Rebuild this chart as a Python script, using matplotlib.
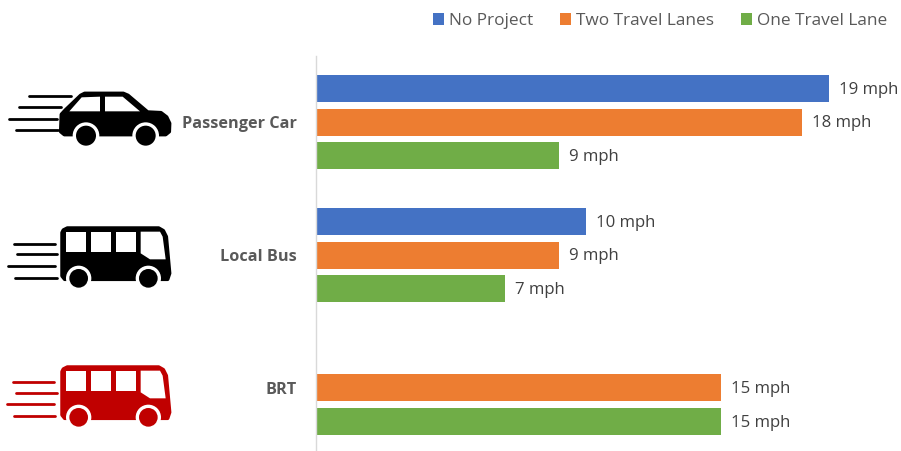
import matplotlib
matplotlib.use("Agg")
import numpy as np
import matplotlib.pyplot as plt
from matplotlib.patches import Circle, Polygon

plt.rcParams['font.family'] = ['Open Sans', 'DejaVu Sans']

categories = ['Passenger Car', 'Local Bus', 'BRT']
series_names = ['No Project', 'Two Travel Lanes', 'One Travel Lane']
no_project = [19, 10, np.nan]
two_lanes = [18, 9, 15]
one_lane = [9, 7, 15]
colors = ['#4472C4', '#ED7D31', '#70AD47']

W, H = 901, 451


# icon outlines are in 3x pixel units, scaled down when drawn
def scaled(points, dy):
    return [(x / 3, y / 3 + dy) for x, y in points]


def draw_lines(ax, rows, dy, color):
    for x0, x1, y in rows:
        ax.plot([x0 / 3, x1 / 3], [y / 3 + dy, y / 3 + dy], color=color, lw=2.0,
                solid_capstyle='round')


def draw_wheels(ax, wheels, dy, color, r_out, r_in):
    for x, y in wheels:
        ax.add_patch(Circle((x / 3, y / 3 + dy), r_out / 3, fc='white', ec='none', zorder=3))
        ax.add_patch(Circle((x / 3, y / 3 + dy), r_in / 3, fc=color, ec='none', zorder=4))


def draw_body(ax, points, dy, color):
    # thick round-joined edge softens the polygon corners
    ax.add_patch(Polygon(scaled(points, dy), fc=color, ec=color, lw=2.5,
                         joinstyle='round', zorder=2))


def draw_car(ax, dy, color):
    body = [(184, 133), (196, 120), (242, 76), (254, 70), (370, 70), (384, 76), (443, 126),
            (483, 128), (500, 141), (509, 160), (508, 185), (497, 194), (193, 194), (182, 185)]
    draw_body(ax, body, dy, color)
    windows = [[(208, 124), (245, 82), (300, 80), (300, 124)],
               [(315, 80), (368, 80), (420, 124), (315, 124)]]
    for w in windows:
        ax.add_patch(Polygon(scaled(w, dy), fc='white', ec='none', zorder=3))
    draw_wheels(ax, [(258, 197), (437, 197)], dy, color, 40, 30)
    draw_lines(ax, [(88, 212, 79), (56, 182, 110), (28, 170, 146), (48, 175, 181)], dy, color)


def draw_bus(ax, dy, color, rows):
    body = [(186, 68), (190, 60), (202, 54), (476, 54), (490, 62), (499, 80), (509, 190),
            (503, 208), (194, 208), (186, 198)]
    draw_body(ax, body, dy, color)
    windows = [[(198, 65), (258, 65), (258, 125), (198, 125)],
               [(273, 65), (333, 65), (333, 125), (273, 125)],
               [(347, 65), (408, 65), (408, 125), (347, 125)],
               [(422, 65), (480, 65), (488, 80), (497, 148), (450, 148), (422, 130)]]
    for w in windows:
        ax.add_patch(Polygon(scaled(w, dy), fc='white', ec='none', zorder=3))
    draw_wheels(ax, [(236, 205), (445, 205)], dy, color, 38, 28)
    draw_lines(ax, rows, dy, color)


fig = plt.figure(figsize=(W / 100, H / 100), dpi=100)

# bar chart: 27 px per mph, 133 px per group
left = 315.5
ax = fig.add_axes([left / W, 0, (W - left) / W, (H - 56) / H])
ax.set_xlim(0, (W - left) / 27)
ax.set_ylim((H - 122) / 133, -66 / 133)

bar_h = 27 / 133
offset = 33.3 / 133
y = np.arange(len(categories))
handles = []
for j, (vals, name, col) in enumerate(zip([no_project, two_lanes, one_lane], series_names, colors)):
    ypos = y + (j - 1) * offset
    bars = ax.barh(ypos, vals, height=bar_h, color=col, label=name)
    handles.append(bars)
    for yp, v in zip(ypos, vals):
        if np.isnan(v):
            continue
        ax.annotate(f'{v} mph', (v, yp), xytext=(7.5, -1), textcoords='offset points',
                    va='center', ha='left', fontsize=12.1, color='#404040')

ax.set_yticks(y)
ax.set_yticklabels(categories, fontsize=11.7, fontweight='bold', color='#595959')
ax.tick_params(axis='y', length=0, pad=13.5)
ax.set_xticks([])
for side in ['top', 'right', 'bottom']:
    ax.spines[side].set_visible(False)
ax.spines['left'].set_color('#D9D9D9')
ax.spines['left'].set_linewidth(1)
ax.patch.set_alpha(0)

fig.legend(handles=handles, ncol=3, loc='center left', bbox_to_anchor=(433 / W, 1 - 21 / H),
           frameon=False, fontsize=12.4, labelcolor='#595959', handlelength=0.65,
           handleheight=0.65, handletextpad=0.3, columnspacing=1.54, borderpad=0, borderaxespad=0)

# icons sit on a full-figure overlay in pixel coordinates
icons = fig.add_axes([0, 0, 1, 1])
icons.set_xlim(0, W)
icons.set_ylim(H, 0)
icons.axis('off')
icons.patch.set_alpha(0)
draw_car(icons, 70, 'black')
draw_bus(icons, 210, 'black', [(42, 165, 102), (50, 172, 133), (24, 165, 168), (46, 170, 203)])
draw_bus(icons, 349, '#C00000', [(38, 163, 100), (48, 172, 131), (20, 163, 165), (42, 165, 200)])

fig.savefig('out.png', dpi=100)
